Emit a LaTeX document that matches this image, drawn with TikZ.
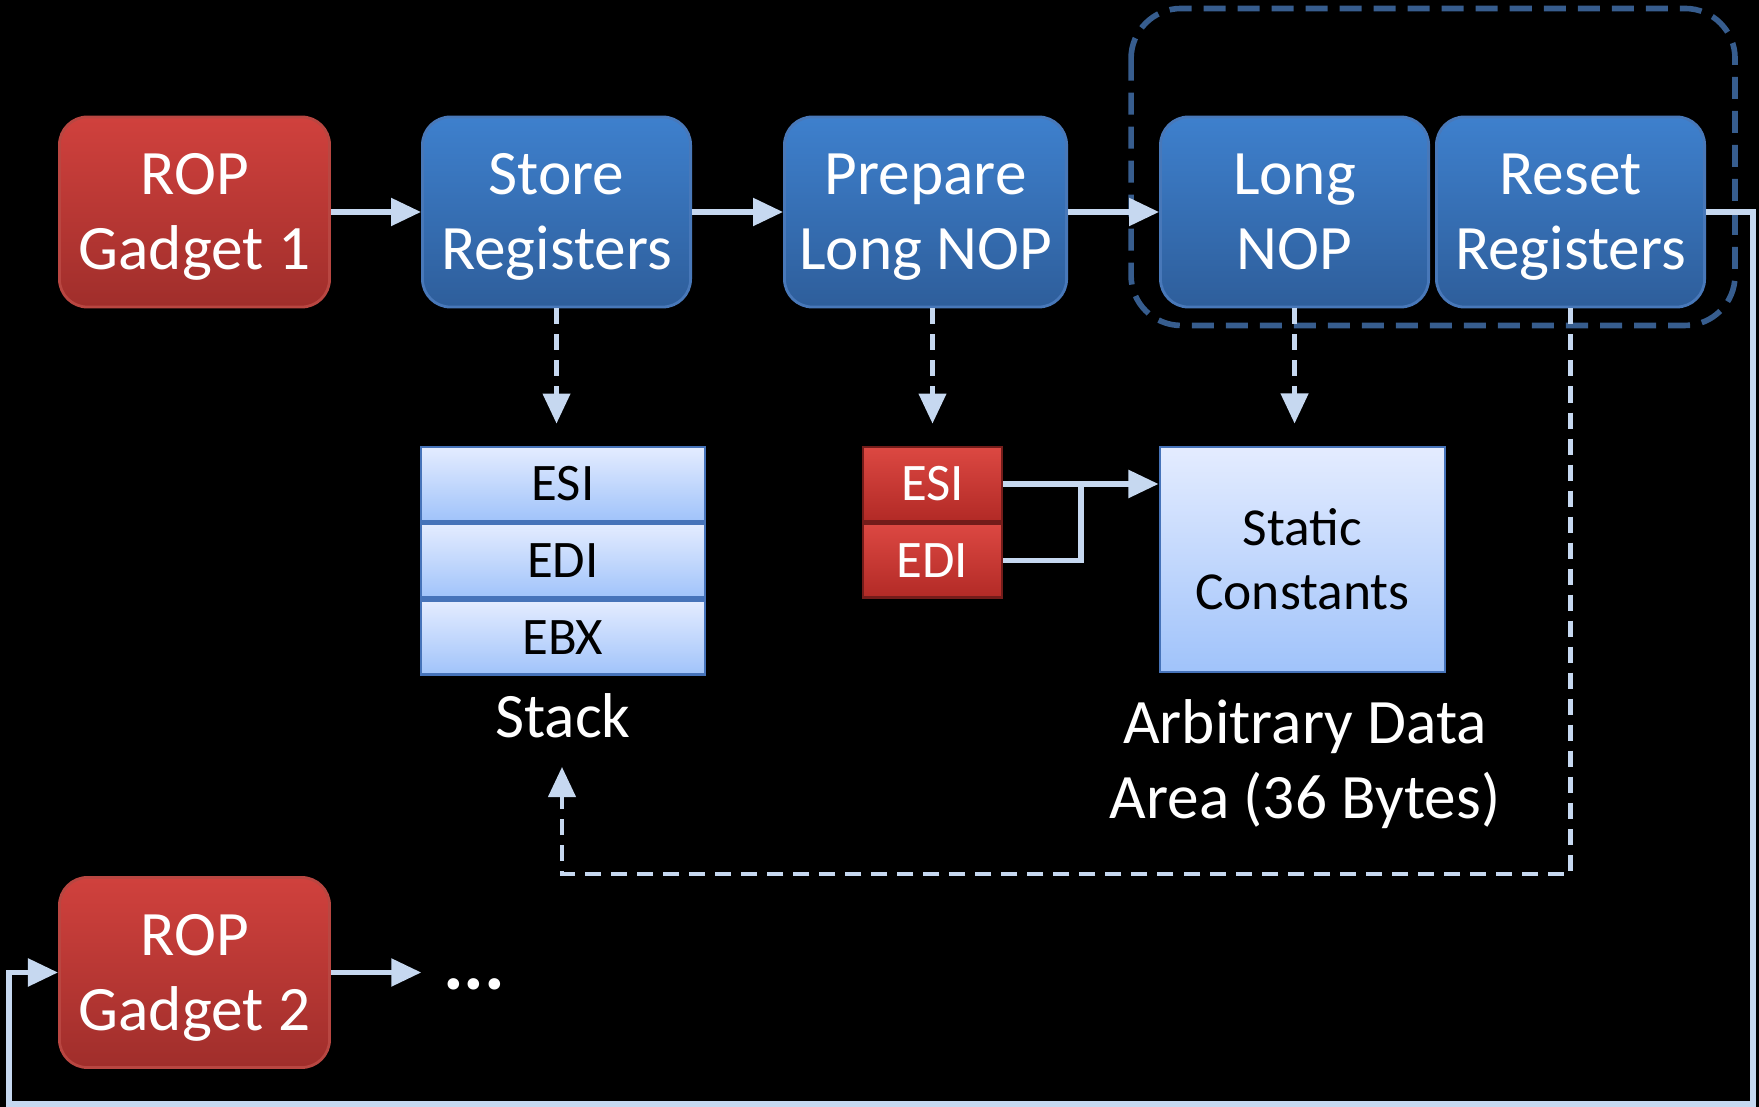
\documentclass[tikz,border=0pt]{standalone}
\usepackage{fontspec}
\setmainfont{Carlito}
\usetikzlibrary{positioning,arrows.meta,calc}
\definecolor{RopTop}{RGB}{208,65,61}
\definecolor{RopBot}{RGB}{160,46,43}
\definecolor{RopEdge}{RGB}{185,70,65}
\definecolor{StepTop}{RGB}{62,128,205}
\definecolor{StepBot}{RGB}{46,94,155}
\definecolor{StepEdge}{RGB}{72,120,185}
\definecolor{CellTop}{RGB}{228,236,255}
\definecolor{CellBot}{RGB}{160,195,250}
\definecolor{CellEdge}{RGB}{70,115,185}
\definecolor{RegTop}{RGB}{220,72,66}
\definecolor{RegBot}{RGB}{178,42,38}
\definecolor{RegEdge}{RGB}{115,28,26}
\definecolor{Wire}{RGB}{198,216,240}
\definecolor{Frame}{RGB}{55,93,142}

% two centred lines, caps kept symmetric in the box
\newcommand{\boxlines}[2]{\raisebox{0pt}[\fontcharht\font`R][0pt]{#1}\\\raisebox{0pt}[\fontcharht\font`R][0pt]{#2}}

\tikzset{
  bigtext/.style={font=\fontsize{18}{21.3}\selectfont, align=center, inner sep=0pt},
  gadget/.style={bigtext, draw=RopEdge, line width=0.8pt, rounded corners=0.28cm, top color=RopTop, bottom color=RopBot, text=white, minimum width=2.70cm, minimum height=1.90cm},
  stepbox/.style={bigtext, draw=StepEdge, line width=0.8pt, rounded corners=0.28cm, top color=StepTop, bottom color=StepBot, text=white, minimum width=2.68cm, minimum height=1.90cm},
  stackcell/.style={draw=CellEdge, line width=0.8pt, top color=CellTop, bottom color=CellBot, minimum width=2.84cm, minimum height=0.74cm, inner sep=0pt, font=\fontsize{15}{17}\selectfont},
  regcell/.style={draw=RegEdge, line width=0.8pt, top color=RegTop, bottom color=RegBot, text=white, minimum width=1.39cm, minimum height=0.74cm, inner sep=0pt, font=\fontsize{15}{17}\selectfont},
  wire/.style={draw=Wire, line width=1.5pt, -{Triangle[length=0.3cm,width=0.27cm]}},
  dwire/.style={wire, line width=1.2pt, dash pattern=on 0.16cm off 0.1cm},
  caption/.style={text=white, font=\fontsize{18}{21.3}\selectfont, align=center}
}

\begin{document}
\begin{tikzpicture}[x=0.01cm, y=-0.01cm]
  \fill[black] (0,0) rectangle (1759,1107);

  % top row
  \node[gadget] (g1) at (194.5,212) {\boxlines{ROP}{Gadget 1}};
  \node[stepbox, right=0.9cm of g1] (store) {\boxlines{Store}{Registers}};
  \node[stepbox, right=0.91cm of store, minimum width=2.82cm] (prep) {\boxlines{Prepare}{Long NOP}};
  \node[stepbox, right=0.91cm of prep] (lnop) {\boxlines{Long}{NOP}};
  \node[stepbox, right=0.05cm of lnop] (reset) {\boxlines{Reset}{Registers}};
  \draw[Frame, line width=1.6pt, dash pattern=on 0.22cm off 0.12cm, rounded corners=0.5cm]
    ([xshift=-0.28cm,yshift=1.07cm]lnop.north west) rectangle ([xshift=0.29cm,yshift=-0.17cm]reset.south east);

  % stack
  \node[stackcell] (s1) at (563,484) {ESI};
  \node[stackcell, below=0cm of s1] (s2) {EDI};
  \node[stackcell, below=0cm of s2] (s3) {EBX};
  \node[caption, anchor=base] (stk) at (563,738) {Stack};

  % registers and data area
  \node[regcell] (r1) at (932.5,484) {ESI};
  \node[regcell, below=0cm of r1] (r2) {EDI};
  \node[stackcell, minimum width=2.85cm, minimum height=2.25cm, align=center, font=\fontsize{15.2}{18.2}\selectfont] (stat) at (1302.5,559.5) {Static\\Constants};
  \node[caption] (area) at (1305,764) {Arbitrary Data\\Area (36 Bytes)};

  % second gadget
  \node[gadget] (g2) at (194.5,972.5) {\boxlines{ROP}{Gadget 2}};
  \node[text=white, font=\fontsize{22}{24}\selectfont\bfseries, inner sep=0pt] (dots) at (474,984) {...};

  \coordinate (back) at (562,874);
  \coordinate (tip) at (562,767);
  \coordinate (loopR) at (1753,1104);
  \coordinate (loopL) at (9,1104);

  % connectors
  \draw[wire] (g1) -- (store);
  \draw[wire] (store) -- (prep);
  \draw[wire] (prep) -- (lnop);
  \draw[dwire] (store.south) -- ([yshift=0.22cm]s1.north -| store.south);
  \draw[dwire] (prep.south -| r1.north) -- ([yshift=0.22cm]r1.north);
  \draw[dwire] (lnop.south) -- ([yshift=0.22cm]stat.north -| lnop.south);
  \draw[dwire] (reset.south) |- (back) -- (tip);
  \draw[wire] (r1.east) -- (stat.west |- r1.east);
  \draw[draw=Wire, line width=1.5pt] (r2.east) -| ($(r1.east)!0.5!(stat.west |- r1.east)$);
  \draw[wire] (reset.east) -| (loopR) -- (loopL) |- (g2.west);
  \draw[wire, shorten >=0.21cm] (g2.east) -- (g2.east -| dots.west);
\end{tikzpicture}
\end{document}
